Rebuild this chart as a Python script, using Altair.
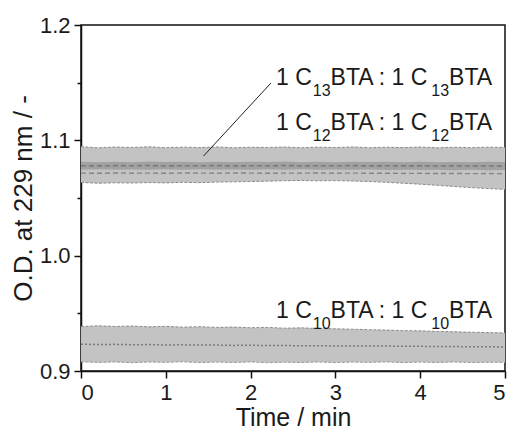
import altair as alt
import pandas as pd

# time axis (min)
t = [0.0, 0.2, 0.4, 0.6, 0.8, 1.0, 1.2, 1.4, 1.6, 1.8, 2.0, 2.2, 2.4,
     2.6, 2.8, 3.0, 3.2, 3.4, 3.6, 3.8, 4.0, 4.2, 4.4, 4.6, 4.8, 5.0]

# upper pair (C13 / C12) – wide band
up_hi = [1.0945, 1.0935, 1.0942, 1.0938, 1.0944, 1.0936, 1.0941, 1.0937, 1.0943,
         1.0935, 1.0940, 1.0938, 1.0942, 1.0936, 1.0941, 1.0937, 1.0943, 1.0936,
         1.0940, 1.0937, 1.0942, 1.0935, 1.0940, 1.0936, 1.0941, 1.0938]
up_lo = [1.0635, 1.0628, 1.0632, 1.0630, 1.0634, 1.0631, 1.0636, 1.0633, 1.0638,
         1.0640, 1.0643, 1.0646, 1.0650, 1.0652, 1.0649, 1.0651, 1.0647, 1.0643,
         1.0636, 1.0628, 1.0620, 1.0610, 1.0600, 1.0590, 1.0582, 1.0575]
# upper pair – narrow (darker) band
in_hi = [1.0815, 1.0810, 1.0814, 1.0811, 1.0816, 1.0812, 1.0815, 1.0810, 1.0814,
         1.0811, 1.0815, 1.0812, 1.0816, 1.0811, 1.0814, 1.0810, 1.0815, 1.0812,
         1.0814, 1.0811, 1.0815, 1.0810, 1.0813, 1.0811, 1.0814, 1.0812]
in_lo = [1.0745, 1.0749, 1.0744, 1.0748, 1.0745, 1.0750, 1.0746, 1.0749, 1.0744,
         1.0748, 1.0745, 1.0749, 1.0746, 1.0750, 1.0745, 1.0748, 1.0744, 1.0747,
         1.0743, 1.0746, 1.0742, 1.0745, 1.0741, 1.0744, 1.0740, 1.0742]
mean_a = [1.0780, 1.0778, 1.0781, 1.0779, 1.0782, 1.0778, 1.0780, 1.0779, 1.0781,
          1.0778, 1.0780, 1.0779, 1.0782, 1.0778, 1.0780, 1.0779, 1.0781, 1.0778,
          1.0780, 1.0778, 1.0779, 1.0777, 1.0779, 1.0777, 1.0778, 1.0776]
mean_b = [1.0716, 1.0714, 1.0717, 1.0715, 1.0716, 1.0714, 1.0717, 1.0716, 1.0715,
          1.0717, 1.0716, 1.0714, 1.0716, 1.0715, 1.0717, 1.0715, 1.0716, 1.0714,
          1.0715, 1.0713, 1.0714, 1.0712, 1.0713, 1.0711, 1.0712, 1.0710]

# lower pair (C10)
lo_hi = [0.9385, 0.9392, 0.9386, 0.9390, 0.9383, 0.9387, 0.9380, 0.9384, 0.9378,
         0.9381, 0.9375, 0.9378, 0.9371, 0.9374, 0.9368, 0.9366, 0.9362, 0.9358,
         0.9355, 0.9350, 0.9348, 0.9343, 0.9340, 0.9336, 0.9333, 0.9330]
lo_lo = [0.9080, 0.9074, 0.9079, 0.9072, 0.9078, 0.9075, 0.9080, 0.9073, 0.9077,
         0.9074, 0.9079, 0.9072, 0.9076, 0.9074, 0.9078, 0.9073, 0.9077, 0.9075,
         0.9079, 0.9073, 0.9077, 0.9074, 0.9078, 0.9073, 0.9076, 0.9075]
lo_mean = [0.9232, 0.9230, 0.9231, 0.9228, 0.9229, 0.9226, 0.9227, 0.9225, 0.9225,
           0.9222, 0.9223, 0.9221, 0.9221, 0.9219, 0.9220, 0.9217, 0.9218, 0.9216,
           0.9216, 0.9214, 0.9214, 0.9212, 0.9212, 0.9210, 0.9210, 0.9208]

# annotation labels
lab_x = [2.30, 2.30, 2.30]
lab_y = [1.148, 1.109, 0.946]
lab_sub = ["13", "12", "10"]

# leader line
lead_x = [1.445]
lead_x2 = [2.24]
lead_y = [1.0864]
lead_y2 = [1.1497]

df = pd.DataFrame({"t": t, "up_hi": up_hi, "up_lo": up_lo, "in_hi": in_hi,
                   "in_lo": in_lo, "mean_a": mean_a, "mean_b": mean_b,
                   "lo_hi": lo_hi, "lo_lo": lo_lo, "lo_mean": lo_mean})
labs = pd.DataFrame({"x": lab_x, "y": lab_y, "sub": lab_sub})
lead = pd.DataFrame({"x": lead_x, "x2": lead_x2, "y": lead_y, "y2": lead_y2})

FONT = "Liberation Sans"
xs = alt.Scale(domain=[0, 5], nice=False, zero=False)
ys = alt.Scale(domain=[0.9, 1.2], nice=False, zero=False)

X = alt.X("t:Q", scale=xs, title="Time / min",
          axis=alt.Axis(values=[0, 1, 2, 3, 4, 5], format="d"))
Y_AX = alt.Axis(values=[0.9, 0.95, 1.0, 1.05, 1.1, 1.15, 1.2],
                labelExpr="round(datum.value*100) % 10 == 0 ? format(datum.value, '.1f') : ''",
                tickSize={"expr": "round(datum.value*100) % 10 == 0 ? 7 : 4"})

base = alt.Chart(df)

def band(lo, hi, color):
    return base.mark_area(color=color, opacity=1).encode(
        x=X, y=alt.Y(f"{lo}:Q", scale=ys, title="O.D. at 229 nm / -", axis=Y_AX),
        y2=f"{hi}:Q")

def line(field, color, dash, width=1.0):
    return base.mark_line(color=color, strokeDash=dash, strokeWidth=width).encode(
        x=X, y=alt.Y(f"{field}:Q", scale=ys))

layers = [
    band("up_lo", "up_hi", "#c3c3c3"),
    line("up_hi", "#8c8c8c", [3, 1.5]),
    line("up_lo", "#8c8c8c", [3, 1.5]),
    band("in_lo", "in_hi", "#a2a2a2"),
    line("mean_a", "#7a7a7a", [5, 3], 1.6),
    line("mean_b", "#858585", [5, 3], 1.4),
    band("lo_lo", "lo_hi", "#c3c3c3"),
    line("lo_hi", "#8c8c8c", [3, 1.5]),
    line("lo_lo", "#9a9a9a", [3, 1.5]),
    line("lo_mean", "#7a7a7a", [2, 2], 1.5),
]

rule = alt.Chart(lead).mark_rule(color="#222222", strokeWidth=1).encode(
    x=alt.X("x:Q", scale=xs), x2="x2:Q", y=alt.Y("y:Q", scale=ys), y2="y2:Q")

M, S = 23, 16
w_main1 = 1.556 * M
w_sub = 2 * 0.556 * S + 1
w_main2 = 4.335 * M
txt = alt.Chart(labs)
enc = dict(x=alt.X("x:Q", scale=xs), y=alt.Y("y:Q", scale=ys))
tcol = "#1a1a1a"
SUBDY = 11
t1 = txt.mark_text(align="left", baseline="alphabetic", font=FONT, fontSize=M,
                   color=tcol).encode(text=alt.value("1 C"), **enc)
t2 = txt.mark_text(align="left", baseline="alphabetic", font=FONT, fontSize=S,
                   color=tcol, dx=w_main1 + 1, dy=SUBDY).encode(text="sub:N", **enc)
t3 = txt.mark_text(align="left", baseline="alphabetic", font=FONT, fontSize=M,
                   color=tcol, dx=w_main1 + w_sub).encode(text=alt.value("BTA : 1 C"), **enc)
t4 = txt.mark_text(align="left", baseline="alphabetic", font=FONT, fontSize=S,
                   color=tcol, dx=w_main1 + w_sub + w_main2 + 1, dy=SUBDY).encode(text="sub:N", **enc)
t5 = txt.mark_text(align="left", baseline="alphabetic", font=FONT, fontSize=M,
                   color=tcol, dx=w_main1 + 2 * w_sub + w_main2).encode(text=alt.value("BTA"), **enc)

chart = alt.layer(*layers, rule, t1, t2, t3, t4, t5).properties(
    width=424, height=346,
    autosize=alt.AutoSizeParams(type="none"),
    padding={"left": 73, "top": 17, "right": 4, "bottom": 61}
).configure_view(stroke="#111111", strokeWidth=1.5).configure_axis(
    grid=False, domainColor="#111111", domainWidth=1.5, tickColor="#111111",
    tickWidth=1.5, tickSize=7, labelFont=FONT, labelFontSize=22, labelColor="#1a1a1a",
    labelPadding=4, titleFont=FONT, titleFontSize=26, titleFontWeight="normal",
    titleColor="#1a1a1a", titlePadding=3
).configure_axisX(labelPadding=4, titlePadding=2, titleFontSize=25)

chart.save("out.html", embed_options={"renderer": "svg", "actions": False})
